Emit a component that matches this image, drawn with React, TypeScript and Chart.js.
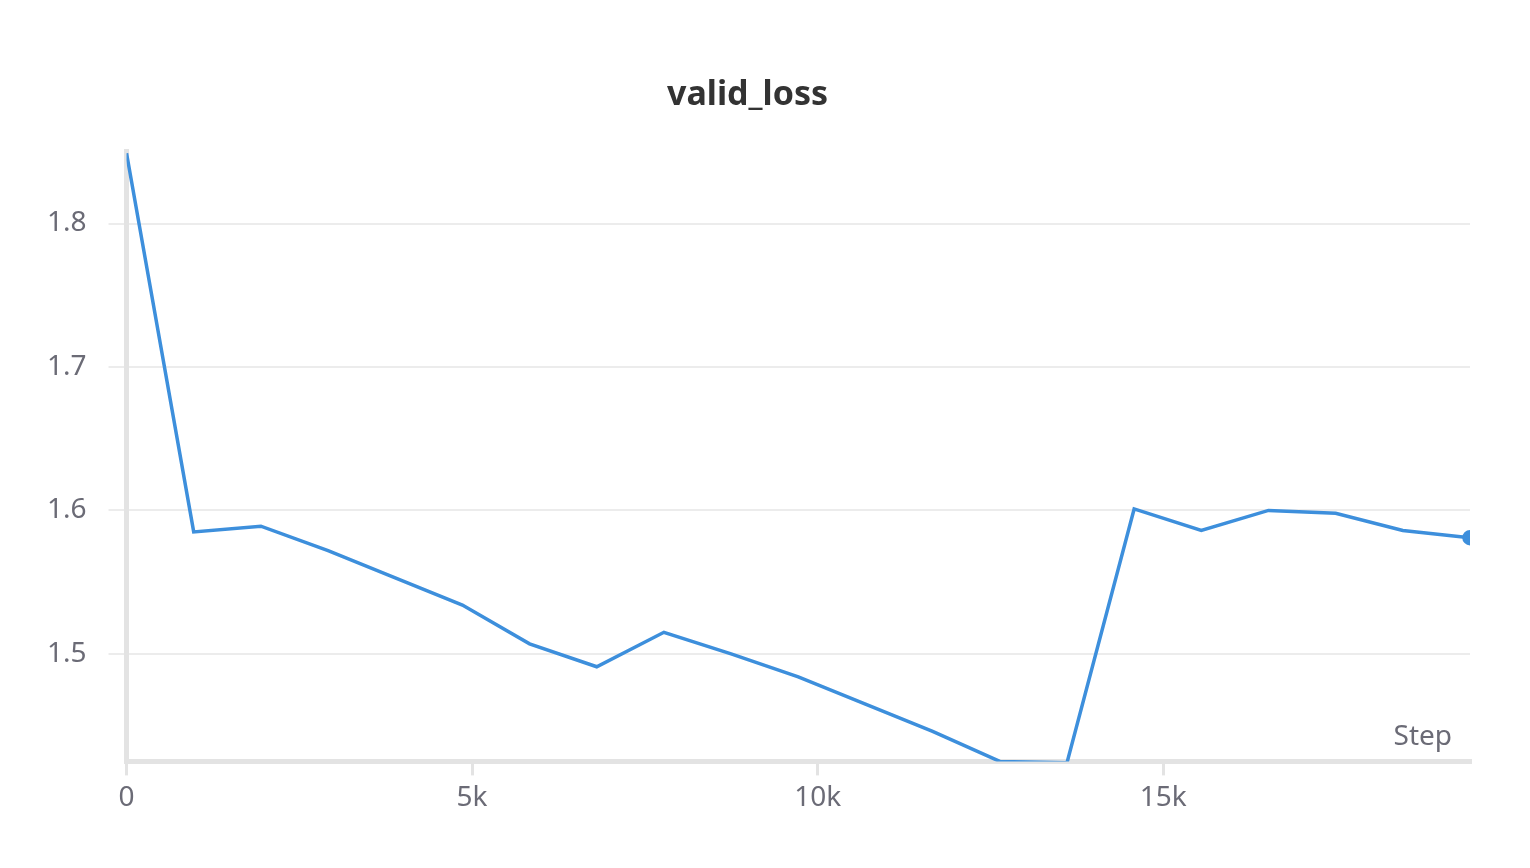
import React, { useEffect, useRef } from "react";
import { Chart, registerables } from "chart.js";
Chart.register(...registerables);

const steps = [0, 972, 1944, 2916, 3888, 4860, 5832, 6804, 7776, 8748, 9720, 10692, 11664, 12636, 13608, 14580, 15552, 16524, 17496, 18468, 19440];
const validLoss = [1.849, 1.585, 1.589, 1.572, 1.553, 1.534, 1.507, 1.491, 1.515, 1.5, 1.484, 1.465, 1.446, 1.425, 1.424, 1.601, 1.586, 1.6, 1.598, 1.586, 1.581];
const yTicks = [1.5, 1.6, 1.7, 1.8];
const xTicks = [0, 5000, 10000, 15000];

const stepLabel = {
  id: "stepLabel",
  afterDraw(chart: any) {
    const { ctx, chartArea } = chart;
    ctx.save();
    ctx.font = "28px 'Noto Sans'";
    ctx.fillStyle = "#6b6b76";
    ctx.textAlign = "right";
    ctx.textBaseline = "alphabetic";
    ctx.fillText("Step", chartArea.right - 18, chartArea.bottom - 16);
    ctx.restore();
  },
};

export default function App() {
  const ref = useRef<HTMLCanvasElement>(null);
  useEffect(() => {
    document.body.style.margin = "0";
    const c = new Chart(ref.current!, {
      type: "line",
      data: {
        datasets: [
          {
            data: steps.map((s, i) => ({ x: s, y: validLoss[i] })),
            borderColor: "#3d8fdc",
            backgroundColor: "#3d8fdc",
            borderWidth: 3.5,
            pointRadius: steps.map((_, i) => (i === steps.length - 1 ? 6 : 0)),
            tension: 0,
          },
        ],
      },
      options: {
        animation: false,
        responsive: false,
        layout: { padding: { left: 25, right: 60, top: 25, bottom: 47 } },
        plugins: {
          legend: { display: false },
          tooltip: { enabled: false },
          title: {
            display: true,
            text: "valid_loss",
            color: "#333",
            font: { family: "'Noto Sans'", size: 34, weight: "bold" },
            padding: { top: 50, bottom: 36 },
          },
        },
        scales: {
          x: {
            type: "linear",
            min: 0,
            max: 19440,
            afterBuildTicks: (s: any) => { s.ticks = xTicks.map((v) => ({ value: v })); },
            ticks: {
              color: "#6b6b76",
              font: { family: "'Noto Sans'", size: 28 },
              padding: 6,
              callback: (v: any) => (v === 0 ? "0" : v / 1000 + "k"),
            },
            grid: { drawOnChartArea: false, color: "#e3e3e3", lineWidth: 3, tickLength: 14 },
            border: { color: "#e3e3e3", width: 5 },
          },
          y: {
            min: 1.425,
            max: 1.85,
            afterBuildTicks: (s: any) => { s.ticks = yTicks.map((v) => ({ value: v })); },
            ticks: {
              color: "#6b6b76",
              font: { family: "'Noto Sans'", size: 28 },
              padding: 22,
              callback: (v: any) => Number(v).toFixed(1),
            },
            grid: { color: "#ececec", lineWidth: 2, tickLength: 18 },
            border: { color: "#e3e3e3", width: 5 },
          },
        },
      },
      plugins: [stepLabel],
    } as any);
    return () => c.destroy();
  }, []);
  return <canvas ref={ref} width={1530} height={868} style={{ display: "block" }} />;
}
